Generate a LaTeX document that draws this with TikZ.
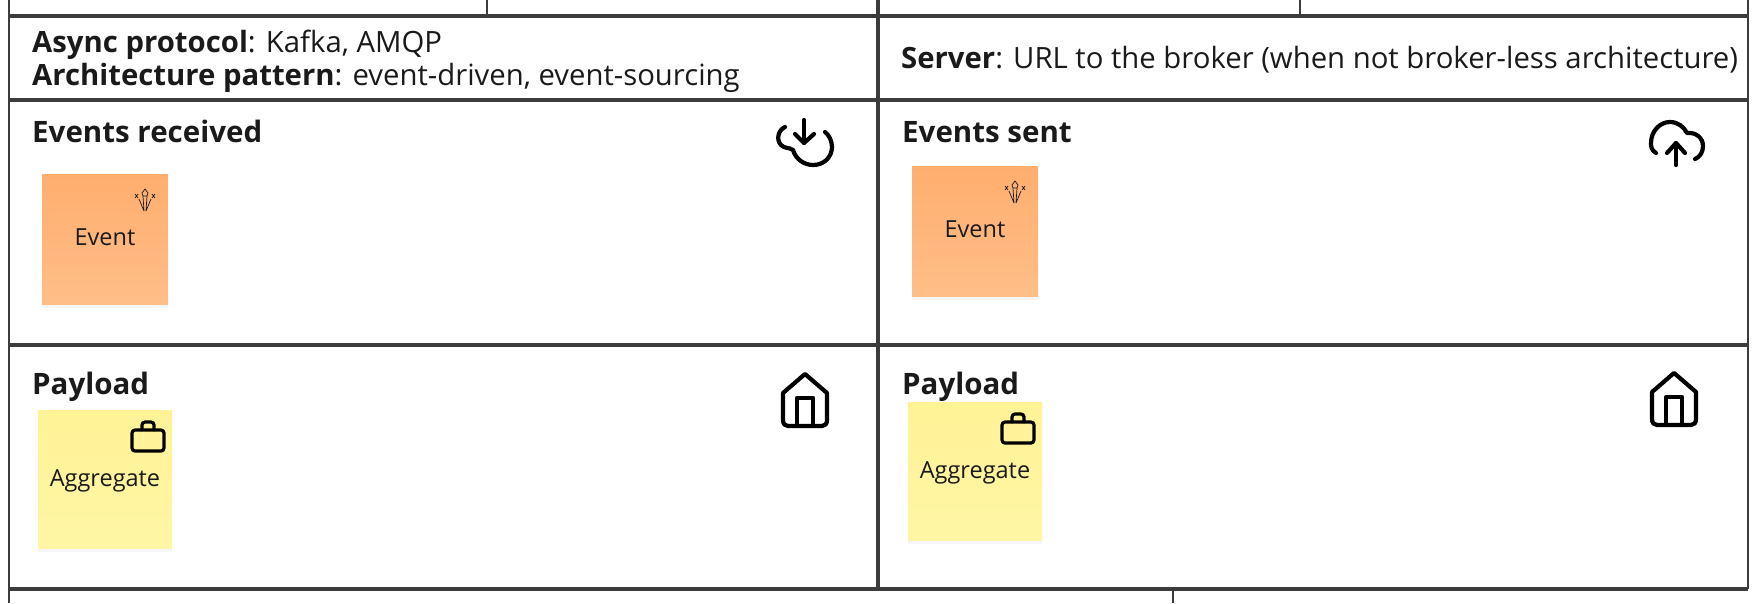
\documentclass[tikz,border=0pt]{standalone}
\usepackage{xcolor}
\usepackage{fontspec}
\setmainfont{Open Sans}
\newfontfamily\notefont{Open Sans}
\usepackage{tikz}
\usetikzlibrary{shadows}
\definecolor{rule}{RGB}{60,60,60}
\definecolor{ink}{RGB}{26,26,26}
\definecolor{eventtop}{RGB}{255,174,110}
\definecolor{eventbot}{RGB}{255,190,136}
\definecolor{aggtop}{RGB}{255,243,150}
\definecolor{aggbot}{RGB}{255,246,165}
\tikzset{
    grid/.style={draw=rule, line width=3.6pt},
    frame/.style={draw=rule, line width=2.8pt},
    heading/.style={anchor=base west, inner sep=0pt, text=ink, font=\fontsize{29.5}{33}\selectfont\bfseries},
    info/.style={anchor=base west, inner sep=0pt, text=ink, font=\fontsize{29.3}{33}\selectfont},
    sticky/.style={rectangle, minimum width=126pt, minimum height=130pt, inner sep=0pt, drop shadow={shadow xshift=0pt, shadow yshift=-4pt, opacity=0.07}},
    event/.style={sticky, top color=eventtop, bottom color=eventbot},
    aggregate/.style={sticky, minimum width=134pt, minimum height=138pt, top color=aggtop, bottom color=aggbot},
    notetext/.style={anchor=base, inner sep=0pt, text=ink, font=\fontsize{23.5}{26}\selectfont\notefont},
    icon/.style={draw=black, line width=4.2pt, line cap=round, line join=round},
    pics/house/.style={code={
        \draw[icon] (0,-26) -- (22,-7) -- (22,20) .. controls (22,24) and (20,26) .. (17,26) -- (-17,26) .. controls (-20,26) and (-22,24) .. (-22,20) -- (-22,-7) -- cycle;
        \draw[icon, line cap=butt] (-8,25) -- (-8,-2) -- (8,-2) -- (8,25);
    }},
    pics/bag/.style={code={
        \draw[icon, line width=3.2pt, rounded corners=3pt] (-16,-10) rectangle (16,11);
        \draw[icon, line width=3.2pt, rounded corners=3pt] (-6,-10) -- (-6,-18) -- (6,-18) -- (6,-10);
    }},
    pics/spark/.style={code={
        \draw[draw=ink, line width=0.7pt] (-1,12) -- (-2,-3) (-1,12) -- (-6,0) (1,12) -- (6,0) (1,12) -- (2,-3);
        \draw[draw=ink, line width=0.7pt] (0,-10) -- (3,-6) -- (2,-3) -- (-2,-3) -- (-3,-6) -- cycle;
        \draw[draw=ink, line width=0.7pt] (-10,-5) -- (-7,-1) (-10,-1) -- (-7,-5) (10,-5) -- (7,-1) (10,-1) -- (7,-5);
    }}
}
\begin{document}
\begin{tikzpicture}[x=1pt, y=-1pt]
    \useasboundingbox (0,0) rectangle (1755,603);
    % Table rules
    \draw[grid] (9,16) -- (1748,16);
    \draw[grid] (9,100) -- (1748,100);
    \draw[grid] (9,345) -- (1748,345);
    \draw[grid] (9,589) -- (1748,589);
    \draw[frame] (9,0) -- (9,603);
    \draw[grid] (878,0) -- (878,589);
    \draw[frame] (1748,0) -- (1748,589);
    \draw[frame] (487,0) -- (487,16);
    \draw[frame] (1300,0) -- (1300,16);
    \draw[frame] (1173,589) -- (1173,603);

    % Top row
    \node[info] (protocol) at (32,52) {\textbf{Async protocol}: Kafka, AMQP};
    \node[info] (pattern) at (32,85) {\textbf{Architecture pattern}: event-driven, event-sourcing};
    \node[info] (server) at (901,68) {\textbf{Server}: URL to the broker (when not broker-less architecture)};

    % Headings
    \node[heading] (received) at (32,142) {Events received};
    \node[heading] (sent) at (902,142) {Events sent};
    \node[heading] (payloadin) at (32,394) {Payload};
    \node[heading] (payloadout) at (902,394) {Payload};

    % Sticky notes
    \node[event] (eventin) at (105,239) {};
    \node[event] (eventout) at (975,231) {};
    \node[aggregate] (aggin) at (105,479) {};
    \node[aggregate] (aggout) at (975,471) {};
    \node[notetext] (eventinlabel) at (105,245) {Event};
    \node[notetext] (eventoutlabel) at (975,237) {Event};
    \node[notetext] (agginlabel) at (105,486) {Aggregate};
    \node[notetext] (aggoutlabel) at (975,478) {Aggregate};

    % Note icons
    \pic at (145,199) {spark};
    \pic at (1015,191) {spark};
    \pic at (148,440) {bag};
    \pic at (1018,432) {bag};

    % Corner icons
    \draw[icon] (785,127) .. controls (778,130) and (776,140) .. (781,145) .. controls (785,149) and (789,147) .. (793,150) .. controls (796,160) and (805,165) .. (813,165) .. controls (825,165) and (832,156) .. (832,147) .. controls (832,141) and (829,135) .. (825,132);
    \draw[icon] (804,120) -- (804,143);
    \draw[icon] (795,134) -- (804,143) -- (814,134);
    \draw[icon] (1656,153) .. controls (1651,150) and (1651,146) .. (1651,143) .. controls (1651,131) and (1660,122) .. (1670,122) .. controls (1678,122) and (1684,127) .. (1687,133) .. controls (1696,132) and (1703,138) .. (1703,146) .. controls (1703,152) and (1700,157) .. (1695,159);
    \draw[icon] (1676,165) -- (1676,143);
    \draw[icon] (1667,153) -- (1676,143) -- (1685,153);
    \pic at (805,400) {house};
    \pic at (1674,399) {house};
\end{tikzpicture}
\end{document}
